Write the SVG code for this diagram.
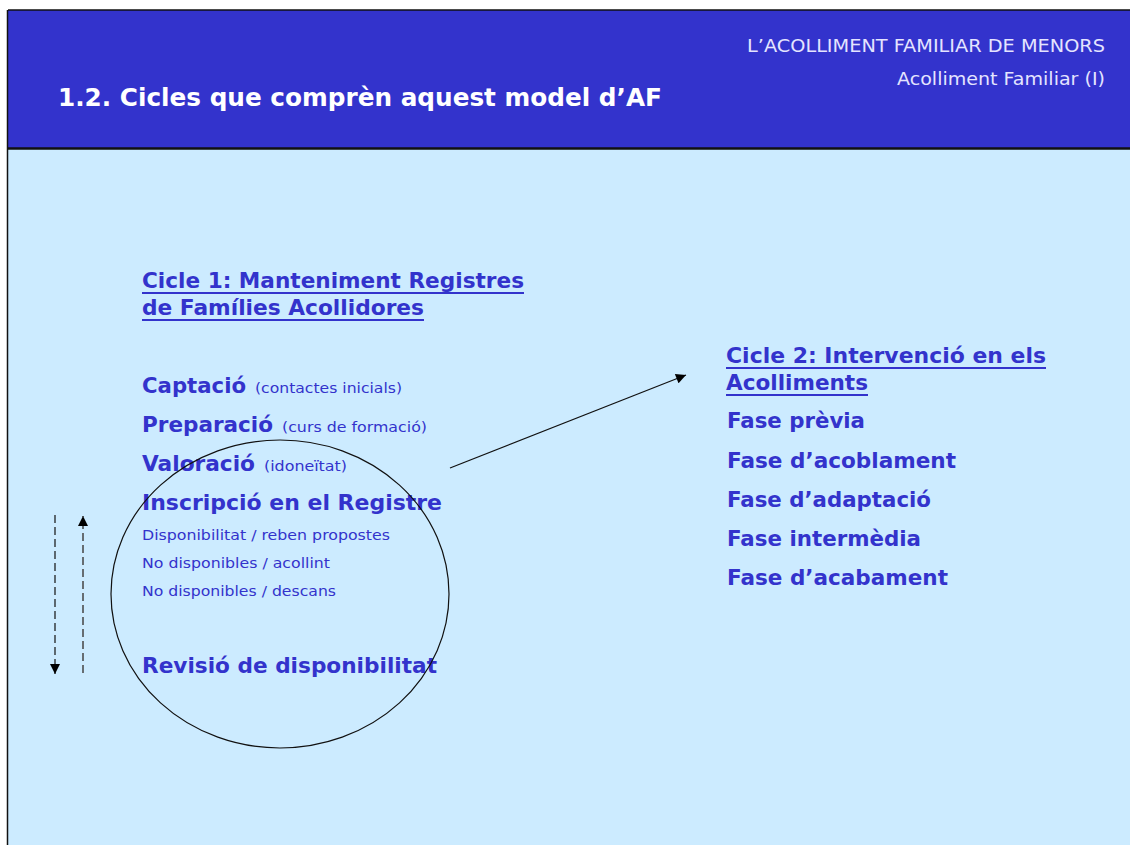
<svg xmlns="http://www.w3.org/2000/svg" width="1130" height="845" viewBox="0 0 1130 845">
  <style>
    .b { font-family: "DejaVu Sans", Verdana, sans-serif; font-weight: bold; font-size: 21px; fill: #3333CC; }
    .s { font-family: "DejaVu Sans", Verdana, sans-serif; font-weight: normal; font-size: 14.5px; fill: #3333CC; }
    .hd { font-family: "DejaVu Sans", Verdana, sans-serif; font-weight: normal; font-size: 17px; fill: #E4E4FF; }
    .title { font-family: "DejaVu Sans", Verdana, sans-serif; font-weight: bold; font-size: 25.5px; fill: #FFFFFF; }
    .ul { stroke: #3333CC; stroke-width: 2; }
  </style>
  <defs>
    <marker id="ah" viewBox="0 0 10 10" refX="10" refY="5" markerWidth="12" markerHeight="10" markerUnits="userSpaceOnUse" orient="auto">
      <path d="M0,0 L10,5 L0,10 z" fill="#000"/>
    </marker>
    <marker id="ahs" viewBox="0 0 10 10" refX="10" refY="5" markerWidth="11" markerHeight="10" markerUnits="userSpaceOnUse" orient="auto">
      <path d="M0,0 L10,5 L0,10 z" fill="#000"/>
    </marker>
  </defs>
  <rect x="0" y="0" width="1130" height="845" fill="#FFFFFF"/>
  <g id="header">
    <rect x="8" y="10" width="1122" height="139" fill="#3333CC"/>
    <line x1="8" y1="10" x2="1130" y2="10" stroke="#111" stroke-width="1.5"/>
    <text class="title" x="58" y="106" textLength="604" lengthAdjust="spacingAndGlyphs">1.2. Cicles que comprèn aquest model d’AF</text>
    <text class="hd" x="1105" y="52" text-anchor="end" textLength="358" lengthAdjust="spacingAndGlyphs">L’ACOLLIMENT FAMILIAR DE MENORS</text>
    <text class="hd" x="1105" y="85" text-anchor="end" textLength="208" lengthAdjust="spacingAndGlyphs">Acolliment Familiar (I)</text>
  </g>
  <rect x="8" y="149" width="1122" height="696" fill="#CCEBFF"/>
  <line x1="8" y1="148.5" x2="1130" y2="148.5" stroke="#111" stroke-width="2.5"/>
  <line x1="7.5" y1="10" x2="7.5" y2="845" stroke="#111" stroke-width="1.5"/>

  <g id="cicle1">
    <text class="b" x="142" y="288" textLength="382" lengthAdjust="spacingAndGlyphs">Cicle 1: Manteniment Registres</text>
    <line class="ul" x1="142" y1="293" x2="524" y2="293"/>
    <text class="b" x="142" y="315" textLength="282" lengthAdjust="spacingAndGlyphs">de Famílies Acollidores</text>
    <line class="ul" x1="142" y1="320" x2="424" y2="320"/>

    <text class="b" x="142" y="393" textLength="104" lengthAdjust="spacingAndGlyphs">Captació</text>
    <text class="s" x="255" y="393" textLength="147" lengthAdjust="spacingAndGlyphs">(contactes inicials)</text>
    <text class="b" x="142" y="432" textLength="131" lengthAdjust="spacingAndGlyphs">Preparació</text>
    <text class="s" x="282" y="432" textLength="145" lengthAdjust="spacingAndGlyphs">(curs de formació)</text>
    <text class="b" x="142" y="471" textLength="113" lengthAdjust="spacingAndGlyphs">Valoració</text>
    <text class="s" x="264" y="471" textLength="83" lengthAdjust="spacingAndGlyphs">(idoneïtat)</text>
    <text class="b" x="142" y="510" textLength="300" lengthAdjust="spacingAndGlyphs">Inscripció en el Registre</text>
    <text class="s" x="142" y="540" textLength="248" lengthAdjust="spacingAndGlyphs">Disponibilitat / reben propostes</text>
    <text class="s" x="142" y="568" textLength="188" lengthAdjust="spacingAndGlyphs">No disponibles / acollint</text>
    <text class="s" x="142" y="596" textLength="194" lengthAdjust="spacingAndGlyphs">No disponibles / descans</text>
    <text class="b" x="142" y="673" textLength="295" lengthAdjust="spacingAndGlyphs">Revisió de disponibilitat</text>
  </g>

  <g id="cicle2">
    <text class="b" x="726" y="363" textLength="320" lengthAdjust="spacingAndGlyphs">Cicle 2: Intervenció en els</text>
    <line class="ul" x1="726" y1="368" x2="1046" y2="368"/>
    <text class="b" x="726" y="390" textLength="142" lengthAdjust="spacingAndGlyphs">Acolliments</text>
    <line class="ul" x1="726" y1="395" x2="868" y2="395"/>
    <text class="b" x="727" y="428" textLength="138" lengthAdjust="spacingAndGlyphs">Fase prèvia</text>
    <text class="b" x="727" y="468" textLength="229" lengthAdjust="spacingAndGlyphs">Fase d’acoblament</text>
    <text class="b" x="727" y="507" textLength="204" lengthAdjust="spacingAndGlyphs">Fase d’adaptació</text>
    <text class="b" x="727" y="546" textLength="194" lengthAdjust="spacingAndGlyphs">Fase intermèdia</text>
    <text class="b" x="727" y="585" textLength="221" lengthAdjust="spacingAndGlyphs">Fase d’acabament</text>
  </g>

  <g id="cycle-ellipse">
    <ellipse cx="280" cy="594" rx="169" ry="154" fill="none" stroke="#111" stroke-width="1.2"/>
  </g>

  <g id="connectors">
    <line x1="450" y1="468" x2="686" y2="375" stroke="#111" stroke-width="1.2" marker-end="url(#ah)"/>
    <line x1="55" y1="515" x2="55" y2="674" stroke="#111" stroke-width="1.2" stroke-dasharray="8,4" marker-end="url(#ahs)"/>
    <line x1="83" y1="673" x2="83" y2="516" stroke="#444" stroke-width="1.5" stroke-dasharray="8,4" marker-end="url(#ahs)"/>
  </g>
</svg>
